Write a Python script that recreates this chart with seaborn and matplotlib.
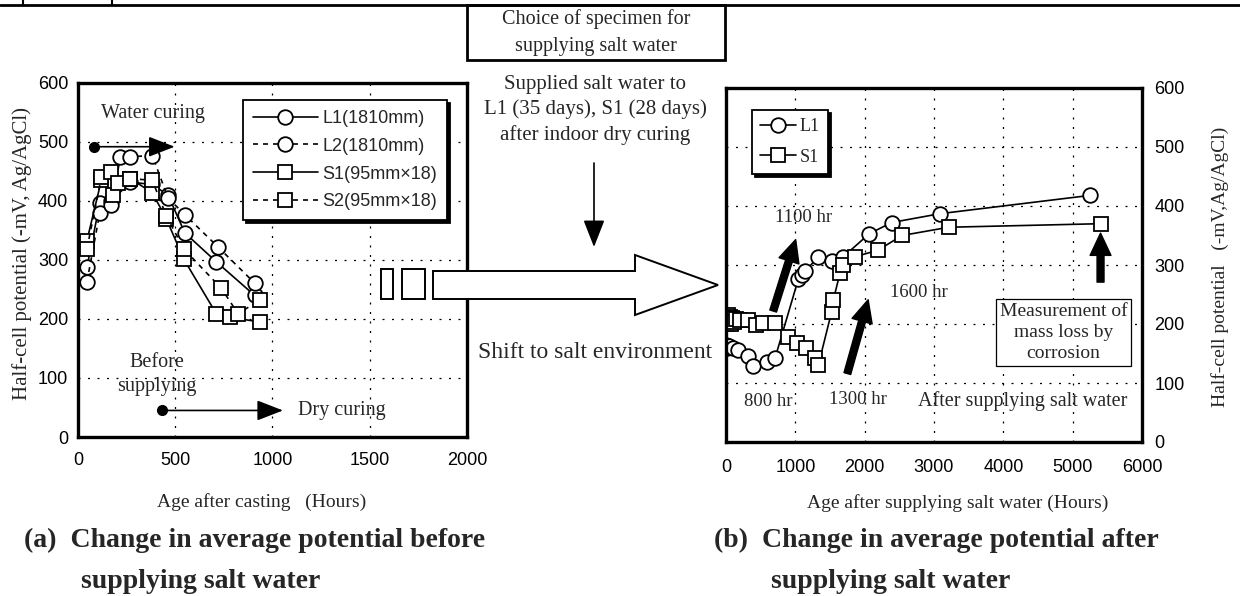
import matplotlib
matplotlib.use("Agg")
import matplotlib.pyplot as plt
import seaborn as sns
from matplotlib.patches import Polygon, Rectangle, FancyArrowPatch
from matplotlib.lines import Line2D

# ---------------- data: panel (a) before supplying salt water ----------------
a_L1_x = [46, 112, 172, 269, 382, 463, 549, 711, 908]
a_L1_y = [288, 396, 400, 432, 428, 410, 346, 297, 240]
a_L2_x = [46, 112, 172, 218, 266, 382, 463, 549, 720, 908]
a_L2_y = [263, 380, 393, 475, 475, 477, 405, 377, 322, 261]
a_S1_x = [46, 120, 180, 269, 382, 454, 543, 711, 780, 934]
a_S1_y = [333, 435, 410, 438, 414, 370, 302, 209, 203, 195]
a_S2_x = [46, 120, 172, 206, 269, 382, 454, 543, 737, 823, 934]
a_S2_y = [319, 440, 449, 430, 438, 435, 375, 319, 252, 209, 232]
a_labels = ["L1(1810mm)", "L2(1810mm)", "S1(95mm\u00d718)", "S2(95mm\u00d718)"]
a_xticks = [0, 500, 1000, 1500, 2000]
a_yticks = [0, 100, 200, 300, 400, 500, 600]

# ---------------- data: panel (b) after supplying salt water ----------------
b_L1_x = [0, 20, 50, 105, 178, 322, 394, 587, 707, 1043, 1090, 1139, 1331, 1524, 1692, 2066, 2390, 3087, 5253]
b_L1_y = [165, 160, 163, 159, 156, 145, 128, 136, 142, 276, 283, 289, 314, 306, 314, 353, 372, 387, 418]
b_S1_x = [0, 10, 20, 30, 45, 60, 75, 90, 110, 150, 200, 322, 430, 538, 707, 899, 1019, 1154, 1283, 1331,
          1524, 1548, 1644, 1692, 1860, 2191, 2539, 3212, 5402]
b_S1_y = [205, 212, 200, 215, 206, 212, 200, 210, 204, 208, 206, 207, 198, 201, 201, 178, 167, 160, 142, 130,
          221, 241, 286, 300, 314, 325, 350, 364, 370]
b_labels = ["L1", "S1"]
b_xticks = [0, 1000, 2000, 3000, 4000, 5000, 6000]
b_yticks = [0, 100, 200, 300, 400, 500, 600]

# ---------------- style ----------------
sns.set_theme(style="white")
plt.rcParams['font.family'] = ['Liberation Serif', 'DejaVu Serif']
SANS = ['Liberation Sans', 'DejaVu Sans']
SERIF = ['Liberation Serif', 'DejaVu Serif']

W, H = 1240, 596
fig = plt.figure(figsize=(12.4, 5.96), dpi=100)
fig.patch.set_facecolor('white')


def fx(px):
    return px / W


def fy(py):
    return 1 - py / H


axA = fig.add_axes([fx(78), fy(437), (467 - 78) / W, (437 - 83) / H])
axB = fig.add_axes([fx(726), fy(442), (1142 - 726) / W, (442 - 88) / H])

DASH = (0, (3, 3))


def series(ax, x, y, marker, dashed):
    n = len(ax.get_lines())
    sns.lineplot(x=x, y=y, ax=ax, sort=False, estimator=None, color='black',
                 linewidth=1.2, linestyle=DASH if dashed else '-',
                 marker=marker, markersize=10.5, markerfacecolor='white',
                 markeredgecolor='black', markeredgewidth=1.3, legend=False)
    return ax.get_lines()[n]


hA = [series(axA, a_L1_x, a_L1_y, 'o', False),
      series(axA, a_L2_x, a_L2_y, 'o', True),
      series(axA, a_S1_x, a_S1_y, 's', False),
      series(axA, a_S2_x, a_S2_y, 's', True)]
hB = [series(axB, b_L1_x, b_L1_y, 'o', False),
      series(axB, b_S1_x, b_S1_y, 's', False)]

for ax, xt, yt, xl in [(axA, a_xticks, a_yticks, (0, 2000)), (axB, b_xticks, b_yticks, (0, 6000))]:
    ax.set_xlim(*xl)
    ax.set_ylim(0, 600)
    ax.set_xticks(xt)
    ax.set_yticks(yt)
    ax.set_xlabel("")
    ax.set_ylabel("")
    ax.grid(True, color='black', linestyle=(0, (1.6, 6)), linewidth=0.9)
    for s in ax.spines.values():
        s.set_color('black')
        s.set_linewidth(2.4)
        s.set_visible(True)
    ax.tick_params(length=0, labelsize=13, colors='black')
    ax.set_facecolor('white')
    ax.set_axisbelow(True)

axA.tick_params(axis='y', pad=7)
axA.tick_params(axis='x', pad=11)
axB.yaxis.tick_right()
axB.tick_params(axis='y', pad=9, left=False, labelleft=False, labelright=True)
axB.tick_params(axis='x', pad=12)
for ax in (axA, axB):
    for lab in ax.get_xticklabels() + ax.get_yticklabels():
        lab.set_family(SANS)

# legends
legA = axA.legend(hA, a_labels, loc='upper left', bbox_to_anchor=(0.424, 0.952),
                  borderaxespad=0, frameon=True, fancybox=False, edgecolor='black',
                  shadow={'color': 'black', 'alpha': 1}, framealpha=1,
                  prop={'family': SANS, 'size': 13}, handlelength=3.6,
                  handletextpad=0.25, labelspacing=0.6, borderpad=0.55)
legA.get_frame().set_linewidth(1.3)
legB = axB.legend(hB, b_labels, loc='upper left', bbox_to_anchor=(0.0625, 0.938),
                  borderaxespad=0, frameon=True, fancybox=False, edgecolor='black',
                  shadow={'color': 'black', 'alpha': 1}, framealpha=1,
                  prop={'family': SERIF, 'size': 13}, handlelength=2.0,
                  handletextpad=0.2, labelspacing=0.75, borderpad=0.45)
legB.get_frame().set_linewidth(1.3)

# ---------------- annotations panel (a) ----------------
axA.text(386, 548, "Water curing", ha='center', va='center', fontsize=14.5)
axA.annotate("", xy=(497, 492), xytext=(82, 492),
             arrowprops=dict(arrowstyle='-|>,head_length=0.9,head_width=0.35',
                             mutation_scale=18, color='black', lw=1.2,
                             shrinkA=0, shrinkB=0))
axA.plot([82], [492], 'o', color='black', markersize=7)
axA.text(403, 106, "Before\nsupplying", ha='center', va='center', fontsize=14.5,
         linespacing=1.4)
axA.annotate("", xy=(1054, 45), xytext=(434, 45),
             arrowprops=dict(arrowstyle='-|>,head_length=0.9,head_width=0.35',
                             mutation_scale=18, color='black', lw=1.2,
                             shrinkA=0, shrinkB=0))
axA.plot([434], [45], 'o', color='black', markersize=7)
axA.text(1131, 45, "Dry curing", ha='left', va='center', fontsize=14.5)

# ---------------- annotations panel (b) ----------------
def fat_arrow(ax, x0, y0, x1, y1):
    ar = FancyArrowPatch((x0, y0), (x1, y1), transform=ax.transData,
                         arrowstyle='simple,head_length=16,head_width=15,tail_width=5',
                         mutation_scale=1, color='black', shrinkA=0, shrinkB=0, zorder=5)
    ax.add_patch(ar)

fat_arrow(axB, 680, 222, 1005, 343)
fat_arrow(axB, 1750, 116, 2050, 241)
fat_arrow(axB, 5402, 271, 5402, 354)
axB.text(1115, 381, "1100 hr", ha='center', va='center', fontsize=13.5)
axB.text(2788, 254, "1600 hr", ha='center', va='center', fontsize=13.5)
axB.text(615, 68, "800 hr", ha='center', va='center', fontsize=13.5)
axB.text(1905, 72, "1300 hr", ha='center', va='center', fontsize=13.5)
axB.text(4282, 70, "After supplying salt water", ha='center', va='center', fontsize=14.5)
axB.text(4870, 186, "Measurement of\nmass loss by\ncorrosion", ha='center', va='center',
         fontsize=14, linespacing=1.3, zorder=6,
         bbox=dict(boxstyle='square,pad=0.2', fc='white', ec='black', lw=0.9))

# ---------------- figure-level annotations ----------------
fig.add_artist(Line2D([0, 1], [fy(5), fy(5)], transform=fig.transFigure, color='black', lw=2))
for px in (23, 112):
    fig.add_artist(Line2D([fx(px), fx(px)], [fy(0), fy(5)], transform=fig.transFigure,
                          color='black', lw=1.5))
fig.add_artist(Rectangle((fx(467), fy(60)), (725 - 467) / W, (60 - 5) / H,
                         transform=fig.transFigure, fill=False, ec='black', lw=2))
fig.text(fx(596), fy(19), "Choice of specimen for", ha='center', va='center', fontsize=14.5)
fig.text(fx(596), fy(46), "supplying salt water", ha='center', va='center', fontsize=14.5)
fig.text(fx(595), fy(110), "Supplied salt water to\nL1 (35 days), S1 (28 days)\nafter indoor dry curing",
         ha='center', va='center', fontsize=15, linespacing=1.35)
fig.add_artist(FancyArrowPatch((fx(594), fy(163)), (fx(594), fy(247)), transform=fig.transFigure,
                               arrowstyle='-|>,head_length=1.4,head_width=0.55',
                               mutation_scale=12, color='black', lw=1.2, shrinkA=0, shrinkB=0))
fig.text(fx(595), fy(352), "Shift to salt environment", ha='center', va='center', fontsize=17)

# big block arrow
body = [(433, 271), (635, 271), (635, 255), (718, 285), (635, 315), (635, 299), (433, 299)]
fig.add_artist(Polygon([(fx(a), fy(b)) for a, b in body], closed=True, transform=fig.transFigure,
                       fc='white', ec='black', lw=1.4, zorder=10))
for x0, x1 in ((381, 393), (402, 425)):
    fig.add_artist(Rectangle((fx(x0), fy(299)), (x1 - x0) / W, (299 - 269) / H,
                             transform=fig.transFigure, fc='white', ec='black', lw=1.4, zorder=10))

# axis labels and titles
fig.text(fx(262), fy(502), "Age after casting   (Hours)", ha='center', va='center', fontsize=14)
fig.text(fx(958), fy(503), "Age after supplying salt water (Hours)", ha='center', va='center', fontsize=14)
fig.text(fx(22), fy(253), "Half-cell potential (-mV, Ag/AgCl)", ha='center', va='center',
         rotation=90, fontsize=15)
fig.text(fx(1220), fy(267), "Half-cell potential   (-mV,Ag/AgCl)", ha='center', va='center',
         rotation=90, fontsize=14)
fig.text(fx(24), fy(540), "(a)  Change in average potential before", ha='left', va='center',
         fontsize=20, fontweight='bold')
fig.text(fx(81), fy(582), "supplying salt water", ha='left', va='center',
         fontsize=20, fontweight='bold')
fig.text(fx(714), fy(540), "(b)  Change in average potential after", ha='left', va='center',
         fontsize=20, fontweight='bold')
fig.text(fx(771), fy(582), "supplying salt water", ha='left', va='center',
         fontsize=20, fontweight='bold')

fig.savefig("out.png", dpi=100, facecolor='white')
